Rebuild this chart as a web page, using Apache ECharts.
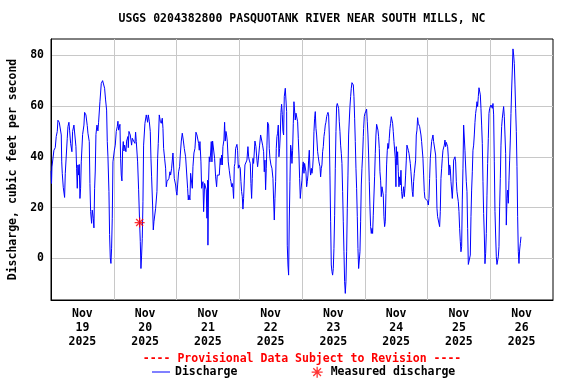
<!DOCTYPE html>
<html>
<head>
<meta charset="utf-8">
<script src="https://cdn.jsdelivr.net/npm/echarts@6/dist/echarts.min.js"></script>
<style>html,body{margin:0;padding:0;background:#fff}#chart{width:576px;height:384px}</style>
</head>
<body>
<div id="chart"></div>
<script>
// x = hours since 2025-11-19 00:00 (local), y = discharge in cubic feet per second
const dayLabels = ['19', '20', '21', '22', '23', '24', '25', '26'];
const monthLabel = 'Nov';
const yearLabel = '2025';
const yTickLabels = [0, 20, 40, 60, 80];

const dischargeDay1 = [
[0.05,34.5],[0.2,29.5],[0.36,36],[1.12,42.6],[1.63,43.6],[2.0,48],[2.4,50],[2.65,54.4],[3.16,53.6],[3.67,53.6],
[3.93,48.6],[4.1,38],[4.31,33.5],[4.69,28],[5.2,24],[5.46,33.5],[5.97,33.5],[6.22,47.3],[6.48,51.9],[6.86,53.6],
[7.11,50.5],[7.5,45.3],[8.0,42],[8.26,50],[8.77,52.5],[9.28,51.9],[9.54,44],[9.79,35.5],[10.05,27.6],[10.3,36.8],
[10.56,32.8],[10.81,37],[11.07,23.6],[11.32,27.6],[11.58,38],[12.09,48.8],[12.6,52.5],[12.85,57.5],[13.36,56.5],[13.87,52.3],
[14.13,49.3],[14.64,46],[14.89,29.5],[15.15,18.4],[15.53,13.8],[15.78,19],[16.17,15.8],[16.42,12],[16.68,27.6],[16.93,34.4],
[17.19,48.8],[17.57,52.5],[17.95,50.2],[18.2,53.6],[18.72,61.7],[19.23,68.9],[19.74,70],[20.25,70.3],[20.5,67],[20.88,62.4],
[21.27,58.4],[21.52,46],[21.78,40],[22.16,26.3],[22.41,9.4],[22.67,0.2],[22.92,-2],[23.18,4],[23.43,15.8],[23.69,38]
];
const dischargeDay2 = [
[24.2,42.3],[24.58,44.6],[24.96,50],[25.35,51.9],[25.6,54],[25.86,50.5],[26.37,52.8],[26.62,39.4],[26.88,32.8],[27.13,30.5],
[27.39,42.6],[27.64,46],[27.9,42.3],[28.15,44.6],[28.66,42],[28.92,46.2],[29.43,48],[29.56,43.6],[29.81,50],[30.07,50.5],
[30.32,48.6],[30.83,44.6],[31.09,47.3],[31.6,46.2],[32.1,45.3],[32.36,49.7],[32.62,46],[33.13,38],[33.51,27],[33.89,14.4],
[34.15,6.6],[34.4,-4],[34.66,1.3],[34.91,7.9],[35.17,22.3],[35.42,44.6],[35.93,53.2],[36.44,56.5],[36.95,53.6],[37.21,56.5],
[37.59,54],[37.97,50],[38.23,39.4],[38.48,32.1],[38.86,21],[39.12,11.2],[39.37,14.4],[39.63,15],[40.01,19.7],[40.52,26.3],
[40.78,39.4],[41.03,45.3],[41.41,56.5],[41.8,54],[42.18,53.2],[42.56,55.2],[42.82,51.2],[43.07,43.3],[43.45,39.4],[43.84,35.5],
[44.09,28.2],[44.35,30.2],[44.6,30.8],[45.11,31.5],[45.49,34.1],[45.75,32.8],[46.13,35.5],[46.64,41.5],[46.9,42],[47.15,31.5],
[47.66,28.9]
];
const dischargeDay3 = [
[47.92,26.3],[48.17,24.9],[48.43,28.9],[48.81,34.1],[49.19,36.1],[49.45,40.7],[49.83,46.2],[50.21,49.3],[50.59,46.6],[50.98,43.3],
[51.49,40],[52.0,39.4],[52.25,27.6],[52.51,23],[52.76,24.9],[53.14,23],[53.4,33.5],[53.78,32.8],[54.04,27.6],[54.29,36.1],
[54.67,41.5],[55.06,43.3],[55.44,49.7],[55.82,48.6],[56.2,48.6],[56.46,45.3],[56.71,42.6],[56.97,46],[57.35,38],[57.61,27.6],
[58.12,30.2],[58.37,18.4],[58.75,29.5],[59.13,30.2],[59.39,27],[59.64,15.8],[59.9,30.8],[60.02,5.2],[60.28,30.8],[60.53,40],
[60.79,38],[61.04,41.5],[61.3,46],[61.55,38],[61.81,46.2],[62.19,46.2],[62.57,39.4],[62.96,32.1],[63.34,28.2],[63.59,32.8],
[63.98,33.1],[64.36,32.8],[64.74,39.4],[65.0,36.8],[65.25,40.7],[65.51,36.8],[65.76,44],[66.14,46.6],[66.4,53.6],[66.65,46.2],
[66.91,50],[67.16,48.6],[67.42,46.2],[67.8,38],[68.18,34.7],[68.57,31.5],[68.82,30.2],[69.08,28.2],[69.33,29.5],[69.59,27.6],
[69.84,23.6],[70.1,36.1],[70.35,37.4],[70.61,43.3],[70.86,44],[71.12,44.9],[71.37,42.6],[71.63,35.5]
];
const dischargeDay4 = [
[71.88,36.8],[72.14,37.4],[72.39,35.5],[72.65,30.2],[72.9,26.3],[73.16,24.3],[73.41,19.4],[73.67,23.6],[73.92,30.5],[74.18,36.8],
[74.69,36.8],[74.94,38.7],[75.32,44],[75.58,40],[75.83,38.7],[76.22,37.4],[76.47,29.5],[76.73,23.6],[76.98,31.5],[77.24,39.4],
[77.49,37.4],[77.75,36.8],[78.0,46.2],[78.38,44],[78.77,38.7],[79.02,36.1],[79.28,38.7],[79.53,39.4],[79.79,44.6],[80.17,48.6],
[80.55,48.6],[80.93,44.6],[81.32,42],[81.57,34.1],[81.83,38.7],[82.08,27],[82.34,35.5],[82.59,44.6],[82.85,53.6],[83.23,52.5],
[83.48,43.3],[83.74,39.4],[84.12,36.8],[84.5,35.5],[84.89,31.5],[85.14,23],[85.4,15.1],[85.65,23.6],[85.91,30.2],[86.16,43.3],
[86.42,48],[86.67,49.3],[86.93,52.5],[87.18,40],[87.44,43.3],[87.69,48.6],[87.95,57.5],[88.2,60.7],[88.46,56.7],[88.71,50],
[88.97,48.6],[89.22,63.7],[89.61,67],[89.86,67.6],[90.12,57.8],[90.37,5.2],[90.63,-2.6],[90.88,-6.6],[91.14,15.1],[91.39,30.2],
[91.65,44.6],[91.9,42.6],[92.16,37.4],[92.41,42.6],[92.67,53.2],[92.92,61.7],[93.18,61],[93.43,54.5],[93.69,57.2],[94.07,56.5],
[94.33,53.8],[94.58,47.3],[94.84,40.7],[95.09,31.5],[95.35,23.6]
];
const dischargeDay5 = [
[95.6,27],[95.98,30.8],[96.24,36.1],[96.49,38],[96.75,33.5],[97.0,37.4],[97.26,38],[97.51,34.1],[97.77,28.2],[98.02,30.2],
[98.28,32.8],[98.53,38.7],[98.79,42.6],[99.04,35.5],[99.3,32.8],[99.55,35.5],[99.81,33.5],[100.06,35.5],[100.32,40],[100.57,49.9],
[100.83,55.2],[101.08,57.8],[101.34,51.2],[101.59,48.6],[101.98,42],[102.23,40],[102.49,38],[102.87,36.1],[103.12,32.1],[103.38,35.5],
[103.63,36.8],[103.89,42],[104.14,44],[104.4,48],[104.65,49.9],[104.91,52.5],[105.16,53.6],[105.42,55.8],[105.67,56.7],[105.93,57.5],
[106.18,56.5],[106.44,48.6],[106.69,32.8],[106.95,14.4],[107.2,-2.6],[107.46,-5.2],[107.71,-6.6],[107.97,-4],[108.22,3.9],[108.48,17],
[108.73,35.5],[108.99,49.9],[109.24,60.1],[109.5,61],[109.75,60.5],[110.01,59.1],[110.26,53.8],[110.52,49.9],[110.77,44.6],[111.03,41.4],
[111.28,37.4],[111.54,26.3],[111.79,14.4],[112.05,2.6],[112.3,-9.2],[112.56,-13.8],[112.81,-9.2],[113.07,2.6],[113.32,19.7],[113.58,32.8],
[113.83,48.6],[114.09,54.5],[114.34,59.8],[114.6,63.7],[114.85,67],[115.11,69.2],[115.36,68.9],[115.62,68.3],[115.87,63.7],[116.13,55.2],
[116.38,46],[116.64,35.5],[116.89,27.6],[117.15,16.4],[117.4,3.9],[117.66,-4],[117.91,-4],[118.17,2.6],[118.42,14.4],[118.68,28.9],
[118.93,35.5],[119.19,40.7],[119.44,47.9]
];
const dischargeDay6 = [
[119.57,51.2],[119.82,55.8],[120.08,57.1],[120.46,58],[120.71,58.8],[120.97,53.8],[121.22,48.6],[121.48,40.7],[121.73,30.2],[121.99,20.3],
[122.24,12.5],[122.5,9.8],[122.75,11.8],[123.01,9.8],[123.26,17],[123.52,17],[123.77,32.1],[124.03,41.4],[124.28,48.6],[124.54,52.8],
[124.79,52.5],[125.05,50.5],[125.3,47.9],[125.56,43.3],[125.81,34.1],[126.07,30.8],[126.32,24.3],[126.58,28.2],[126.83,28.9],[127.09,24.9],
[127.34,16.4],[127.6,12.5],[127.85,14.4],[128.11,25.6],[128.36,36.8],[128.62,42.6],[128.87,45.3],[129.13,43.3],[129.38,47.3],[129.64,51.2],
[129.89,53.2],[130.15,55.8],[130.4,54.5],[130.66,53.2],[130.91,49.9],[131.17,46],[131.42,46],[131.68,39.4],[131.93,28.2],[132.06,44],
[132.32,36.8],[132.57,42],[132.83,34.1],[133.08,28.2],[133.34,32.1],[133.59,28.9],[133.85,34.7],[134.1,26.3],[134.36,23.6],[134.61,25.6],
[134.87,28.2],[135.12,24.3],[135.38,27.6],[135.63,32.8],[135.89,38.7],[136.14,44.6],[136.4,44.6],[136.65,42.6],[136.91,41.4],[137.16,42],
[137.42,37.4],[137.67,34.1],[137.93,33.5],[138.18,26.3],[138.44,24.3],[138.69,30.2],[138.95,33.5],[139.2,32.8],[139.46,38.7],[139.71,48.6],
[139.97,50.5],[140.22,55.4],[140.48,53.2],[140.73,52.5],[140.99,51.9],[141.24,51.2],[141.5,48.6],[141.75,46],[142.01,45.3],[142.26,39.4],
[142.52,32.8],[142.77,26.3],[143.03,23.6],[143.28,23.4],[143.54,23]
];
const dischargeDay7 = [
[143.79,23],[144.05,22.6],[144.3,21],[144.56,23.6],[144.81,31.5],[145.07,39.4],[145.32,39.4],[145.58,46],[145.83,46.6],[146.09,48.6],
[146.34,46],[146.6,46.6],[146.85,46],[147.11,40.7],[147.36,31.5],[147.62,19.7],[147.87,16.4],[148.13,16.4],[148.38,16],[148.64,12.5],
[148.89,18.4],[149.15,31.5],[149.41,35.5],[149.66,39.4],[149.92,42.6],[150.17,42.6],[150.43,44.6],[150.68,46.6],[150.94,44],[151.19,45.7],
[151.45,46.2],[151.7,44],[151.96,40],[152.21,32.8],[152.47,36.8],[152.72,35.5],[152.98,30.2],[153.23,29.5],[153.49,23.6],[153.74,28.9],
[154.0,38.7],[154.25,39.1],[154.51,40],[154.76,38],[155.02,30.2],[155.27,26.3],[155.53,26.3],[155.78,22.3],[156.04,18.4],[156.29,11.8],
[156.55,6.6],[156.8,2.6],[157.06,4.6],[157.31,23],[157.57,35.5],[157.82,52.5],[158.08,51.9],[158.33,42.6],[158.59,42],[158.84,30.2],
[159.1,26.3],[159.35,11.8],[159.61,-2.4],[159.86,-2.4],[160.12,-2.4],[160.37,1.3],[160.63,16.4],[160.88,26.9],[161.14,34.1],[161.39,42.6],
[161.65,44.6],[161.9,48.6],[162.16,53.6],[162.41,57.1],[162.67,59.1],[162.92,61.7],[163.18,59.8],[163.43,63.7],[163.69,67.2],[163.94,67],
[164.2,64.4],[164.45,59.1],[164.71,52.5],[164.96,45.3],[165.22,30.2],[165.47,17.7],[165.73,9.2],[165.98,-2.1],[166.24,2],[166.49,9.8],
[166.75,24.9],[167.0,37.4],[167.26,47.3],[167.51,57.1],[167.77,59.1]
];
const dischargeDay8 = [
[168.02,59.1],[168.28,60.4],[168.53,60.1],[168.79,59.1],[169.04,61],[169.3,56.5],[169.55,38],[169.81,18.4],[170.06,9.2],[170.32,0.6],
[170.57,-2.4],[170.83,-2.6],[171.08,0.6],[171.34,4.6],[171.59,20.3],[171.85,31.5],[172.1,44.6],[172.36,51.9],[172.61,55.2],[172.87,55.8],
[173.12,59.8],[173.38,55.8],[173.63,48.6],[173.89,41.4],[174.14,13.1],[174.4,23.6],[174.65,26.9],[174.91,21.7],[175.16,30.8],[175.42,38.7],
[175.67,46.6],[175.93,57.1],[176.18,66.3],[176.44,74.2],[176.69,82.5],[176.95,80.1],[177.2,76.8],[177.46,68.3],[177.71,59.1],[177.97,49.9],
[178.22,36.1],[178.48,16.4],[178.73,2.6],[178.99,-2],[179.24,3.3],[179.5,5.9],[179.75,8.5]
];
const discharge = [].concat(dischargeDay1, dischargeDay2, dischargeDay3, dischargeDay4,
  dischargeDay5, dischargeDay6, dischargeDay7, dischargeDay8);

// field measurement
const measured = [[33.9, 14.1]];

const FONT = '"DejaVu Sans Mono", "Liberation Mono", monospace';
const txt = (color) => ({ fontFamily: FONT, fontSize: 11.5, fontWeight: 'bold', color: color || '#000' });
const STAR = 'path://M0,6L12,6M6,0L6,12M1.8,1.8L10.2,10.2M1.8,10.2L10.2,1.8';
// thin horizontal bar icon inside an 18x11 box (legend line sample)
const LINE_ICON = 'path://M0,0M0,5L18,5L18,6L0,6ZM18,11';

const chart = echarts.init(document.getElementById('chart'), null, { renderer: 'canvas' });
chart.setOption({
  animation: false,
  backgroundColor: '#ffffff',
  title: [
    { text: 'USGS 0204382800 PASQUOTANK RIVER NEAR SOUTH MILLS, NC', left: 302, top: 13,
      textAlign: 'center', padding: 0, textStyle: txt('#000') },
    { text: '---- Provisional Data Subject to Revision ----', left: 302, top: 353,
      textAlign: 'center', padding: 0, textStyle: txt('#ff0000') }
  ],
  legend: [
    { data: [{ name: 'Discharge', icon: LINE_ICON }], left: 152, top: 366, padding: 0, itemWidth: 18, itemHeight: 11,
      itemStyle: { color: '#0000ff', borderWidth: 0 },
      lineStyle: { color: '#0000ff', width: 1 },
      textStyle: txt('#000'), selectedMode: false },
    { data: ['Measured discharge'], left: 311, top: 366, padding: 0, itemWidth: 13, itemHeight: 11,
      itemStyle: { color: '#ff0000', borderColor: '#ff0000', borderWidth: 1.3 },
      textStyle: Object.assign(txt('#000'), { padding: [0, 0, 0, 2] }), selectedMode: false }
  ],
  grid: { left: 51, right: 23, top: 39, bottom: 84, show: true, borderColor: '#000', borderWidth: 1,
    backgroundColor: 'transparent', containLabel: false, outerBoundsMode: 'none' },
  xAxis: [
    { type: 'category', data: dayLabels.map(d => monthLabel + '\n' + d + '\n' + yearLabel), boundaryGap: true,
      axisLine: { show: true, onZero: false, lineStyle: { color: '#000', width: 1 } },
      axisTick: { show: false },
      axisLabel: Object.assign({ interval: 0, margin: 7, lineHeight: 14 }, txt('#000')),
      splitLine: { show: true, interval: 0, showMinLine: false, showMaxLine: false, lineStyle: { color: '#c8c8c8', width: 1 } } },
    { type: 'value', min: 0, max: 192, show: false, splitLine: { show: false } }
  ],
  yAxis: {
    type: 'value', min: -16.4, max: 86.4,
    name: 'Discharge, cubic feet per second', nameLocation: 'middle', nameGap: 32,
    nameTextStyle: txt('#000'),
    axisLine: { show: true, onZero: false, lineStyle: { color: '#000', width: 1 } },
    axisTick: { show: false },
    axisLabel: Object.assign({ margin: 7, showMinLabel: false, showMaxLabel: false,
      formatter: v => (yTickLabels.indexOf(v) >= 0 ? String(v) : '') }, txt('#000')),
    splitLine: { show: true, showMinLine: false, showMaxLine: false, lineStyle: { color: '#c8c8c8', width: 1 } }
  },
  series: [
    { name: 'Discharge', type: 'line', xAxisIndex: 1, yAxisIndex: 0, data: discharge,
      showSymbol: false, symbol: 'none', clip: true,
      lineStyle: { color: '#0000ff', width: 1 }, itemStyle: { color: '#0000ff' }, z: 3 },
    { name: 'Measured discharge', type: 'scatter', xAxisIndex: 1, yAxisIndex: 0, data: measured,
      symbol: STAR, symbolSize: 10,
      itemStyle: { color: '#ff0000', borderColor: '#ff0000', borderWidth: 1.3 }, z: 5 }
  ]
});
</script>
</body>
</html>
